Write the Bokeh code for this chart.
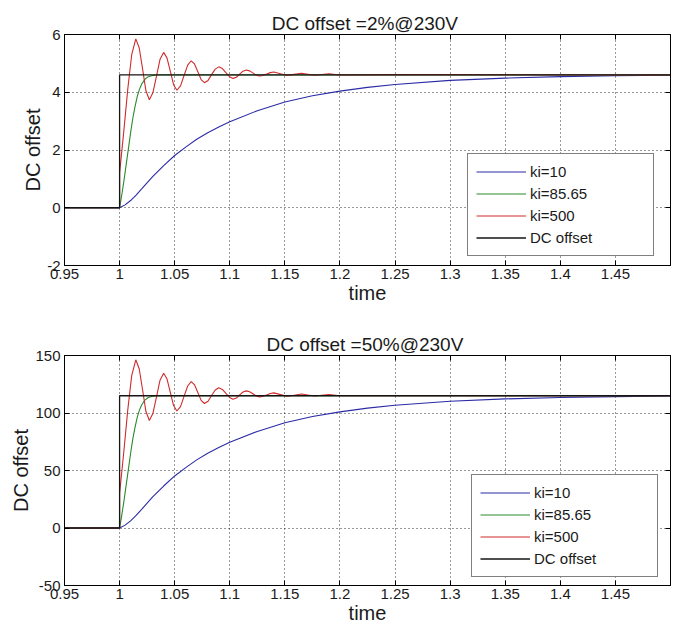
from bokeh.plotting import figure
from bokeh.models import (FixedTicker, LinearAxis, Legend, LegendItem,
                          CustomJSTickFormatter, Range1d)
from bokeh.layouts import column
from bokeh.embed import file_html
from bokeh.resources import INLINE

FONT = "Liberation Sans"

# ---------------- data ----------------
x_ticks = [0.95, 1.0, 1.05, 1.1, 1.15, 1.2, 1.25, 1.3, 1.35, 1.4, 1.45]
top_y_ticks = [-2, 0, 2, 4, 6]
bot_y_ticks = [-50, 0, 50, 100, 150]

legend_labels = ["ki=10", "ki=85.65", "ki=500", "DC offset"]

# ki = 10 (blue)
t_blue = [0.95, 1.0, 1.005, 1.01, 1.015, 1.02, 1.03, 1.04, 1.05, 1.06, 1.07, 1.08,
          1.09, 1.1, 1.125, 1.15, 1.175, 1.2, 1.225, 1.25, 1.3, 1.35, 1.4, 1.45, 1.5]
ki10_top = [0, 0, 0.1, 0.25, 0.44, 0.65, 1.08, 1.46, 1.81, 2.1, 2.37, 2.6,
            2.8, 2.98, 3.36, 3.66, 3.88, 4.04, 4.17, 4.27, 4.41, 4.49, 4.54, 4.57, 4.59]
ki10_bot = [0, 0, 2.5, 6.25, 11, 16.25, 27, 36.5, 45.25, 52.5, 59.25, 65,
            70, 74.5, 84, 91.5, 97, 101, 104.25, 106.75, 110.25, 112.25, 113.5, 114.25, 114.75]

# ki = 85.65 (green)
t_green = [0.95, 1.0, 1.002, 1.004, 1.006, 1.008, 1.010, 1.012, 1.014, 1.016,
           1.018, 1.020, 1.023, 1.026, 1.030, 1.035, 1.5]
ki8565_top = [0, 0, 0.45, 0.95, 1.5, 2.05, 2.6, 3.1, 3.5, 3.85,
              4.1, 4.28, 4.45, 4.54, 4.58, 4.6, 4.6]
ki8565_bot = [0, 0, 11.25, 23.75, 37.5, 51.25, 65, 77.5, 87.5, 96.25,
              102.5, 107, 111.25, 113.5, 114.5, 115, 115]

# ki = 500 (red)
t_red = [0.95, 1.0, 1.0, 1.0037, 1.0074, 1.011, 1.0147, 1.0178, 1.0209, 1.0239,
         1.027, 1.0302, 1.0335, 1.0367, 1.040, 1.043, 1.046, 1.049, 1.052, 1.0553,
         1.0585, 1.0618, 1.065, 1.068, 1.071, 1.074, 1.077, 1.0803, 1.0835, 1.0868,
         1.090, 1.0933, 1.0965, 1.0998, 1.103, 1.106, 1.109, 1.112, 1.115, 1.118,
         1.121, 1.124, 1.127, 1.1303, 1.1335, 1.1368, 1.140, 1.146, 1.152, 1.1585,
         1.165, 1.171, 1.177, 1.1835, 1.19, 1.2, 1.25, 1.5]
ki500_top = [0, 0, 1.2, 2.6, 4.1, 5.3, 5.85, 5.54, 4.80, 4.05,
             3.74, 3.98, 4.56, 5.14, 5.38, 5.19, 4.73, 4.26, 4.07, 4.22,
             4.58, 4.94, 5.09, 4.98, 4.71, 4.44, 4.33, 4.41, 4.61, 4.80,
             4.88, 4.82, 4.68, 4.54, 4.48, 4.52, 4.63, 4.73, 4.77, 4.74,
             4.67, 4.59, 4.56, 4.58, 4.63, 4.68, 4.70, 4.64, 4.58, 4.62,
             4.66, 4.625, 4.59, 4.615, 4.64, 4.60, 4.61, 4.60]
ki500_bot = [0, 0, 30, 65, 102.5, 132.5, 146.25, 138.5, 120, 101.25,
             93.5, 99.5, 114, 128.5, 134.5, 129.75, 118.25, 106.5, 101.75, 105.5,
             114.5, 123.5, 127.25, 124.5, 117.75, 111, 108.25, 110.25, 115.25, 120,
             122, 120.5, 117, 113.5, 112, 113, 115.75, 118.25, 119.25, 118.5,
             116.75, 114.75, 114, 114.5, 115.75, 117, 117.5, 116, 114.5, 115.5,
             116.5, 115.6, 114.75, 115.4, 116, 115, 115.25, 115]

# DC offset reference step (black)
t_dc = [0.95, 1.0, 1.0, 1.5]
dc_top = [0, 0, 4.6, 4.6]
dc_bot = [0, 0, 115, 115]

COLORS = ["#2b2ba6", "#2a8a2a", "#cf2b2b", "#151515"]
TXT = "#1a1a1a"


def make_panel(series, yrange, yticks, title, height, border_top, border_bottom,
               legend_loc):
    p = figure(width=676, height=height,
               x_range=Range1d(0.95, 1.5), y_range=Range1d(*yrange),
               output_backend="svg", toolbar_location=None,
               min_border_left=64, min_border_right=6,
               min_border_top=border_top, min_border_bottom=border_bottom)
    p.background_fill_color = "white"
    p.border_fill_color = "white"
    p.outline_line_color = "black"
    p.outline_line_width = 1

    p.title.text = title
    p.title.text_font = FONT
    p.title.text_font_size = "19px"
    p.title.text_font_style = "normal"
    p.title.text_color = TXT
    p.title.align = "center"
    p.title.standoff = 2

    xt = FixedTicker(ticks=x_ticks)
    yt = FixedTicker(ticks=yticks)
    fmt = CustomJSTickFormatter(code="return String(parseFloat(tick.toFixed(4)));")

    for ax, tk in ((p.xaxis[0], xt), (p.yaxis[0], yt)):
        ax.ticker = tk
        ax.formatter = fmt
        ax.major_tick_in = 5
        ax.major_tick_out = 0
        ax.minor_tick_in = 0
        ax.minor_tick_out = 0
        ax.axis_line_color = "black"
        ax.major_tick_line_color = "black"
        ax.major_label_text_font = FONT
        ax.major_label_text_font_size = "15px"
        ax.major_label_text_color = TXT
        ax.axis_label_text_font = FONT
        ax.axis_label_text_font_size = "20px"
        ax.axis_label_text_font_style = "normal"
        ax.axis_label_text_color = TXT
        ax.axis_label_standoff = 0
    p.xaxis[0].axis_label = "time"
    p.yaxis[0].axis_label = "DC offset"
    p.xaxis[0].major_label_standoff = 3
    p.yaxis[0].major_label_standoff = 4

    for loc, tk in (("above", xt), ("right", yt)):
        ax = LinearAxis(ticker=tk, major_tick_in=5, major_tick_out=0,
                        minor_tick_in=0, minor_tick_out=0,
                        major_label_text_font_size="0px",
                        major_label_text_alpha=0, major_label_standoff=0,
                        axis_line_color="black", major_tick_line_color="black")
        p.add_layout(ax, loc)

    p.xgrid.ticker = xt
    p.ygrid.ticker = yt
    for g in (p.xgrid, p.ygrid):
        g.grid_line_color = "black"
        g.grid_line_alpha = 0.8
        g.grid_line_dash = "1 3"
        g.grid_line_width = 1

    rends = []
    for (tx, ty), col in zip(series, COLORS):
        lw = 1.3 if col == COLORS[3] else 1.1
        rends.append(p.line(tx, ty, line_color=col, line_width=lw))

    legend = Legend(items=[LegendItem(label=l, renderers=[r])
                           for l, r in zip(legend_labels, rends)],
                    location=legend_loc,
                    label_text_font=FONT, label_text_font_size="15px",
                    label_text_color=TXT,
                    glyph_width=50, glyph_height=19, label_height=19,
                    label_width=115, label_standoff=4, spacing=3, padding=8,
                    margin=0, border_line_color="black", border_line_width=1,
                    background_fill_color="white", background_fill_alpha=1)
    p.add_layout(legend)
    return p


p1 = make_panel([(t_blue, ki10_top), (t_green, ki8565_top), (t_red, ki500_top), (t_dc, dc_top)],
                (-2, 6), top_y_ticks, "DC offset  =2%@230V", 315, 34, 50, (403, 9))
p2 = make_panel([(t_blue, ki10_bot), (t_green, ki8565_bot), (t_red, ki500_bot), (t_dc, dc_bot)],
                (-50, 150), bot_y_ticks, "DC offset  =50%@230V", 312, 40, 42, (407, 8))

layout = column(p1, p2, spacing=0)
open("out.html", "w").write(file_html(layout, INLINE))
